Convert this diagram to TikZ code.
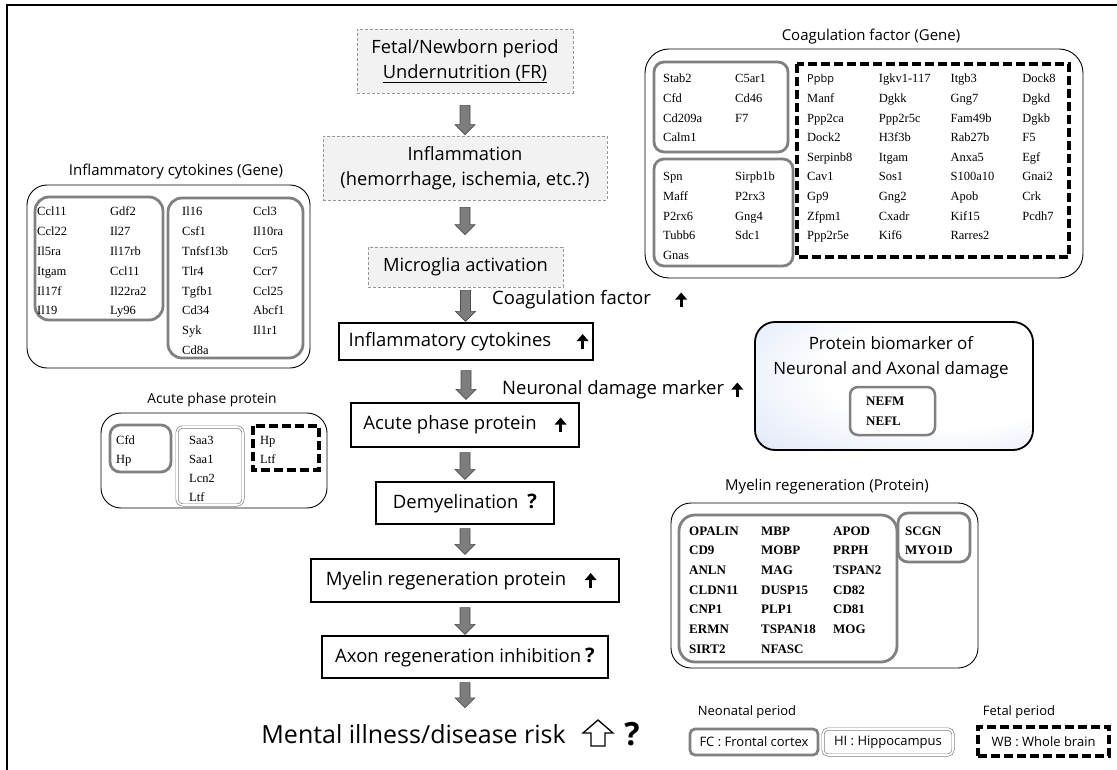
\documentclass[tikz,border=0pt]{standalone}
\usepackage{fontspec}
\setmainfont{Liberation Serif}
\setsansfont{Open Sans}
\usetikzlibrary{calc,arrows.meta}
\definecolor{boxgray}{RGB}{128,128,128}
\definecolor{dashgray}{RGB}{150,150,150}
\definecolor{fillgray}{RGB}{242,242,242}
\definecolor{arrgray}{RGB}{125,125,125}
\definecolor{paleblue}{RGB}{186,202,238}
\pgfdeclareradialshading{bioshade}{\pgfpoint{14bp}{8bp}}{color(0bp)=(white); color(22bp)=(white); color(38bp)=(paleblue!35!white); color(54bp)=(paleblue!80!white); color(72bp)=(paleblue)}
\tikzset{
  frameline/.style={line width=1.8pt},
  outerbox/.style={draw, line width=0.9pt, rounded corners=20pt},
  fcbox/.style={draw=boxgray, line width=2.8pt, rounded corners=10pt},
  wbbox/.style={draw, line width=3.4pt, dash pattern=on 9pt off 4pt},
  hibox/.style={draw=boxgray, double=white, line width=0.7pt, double distance=1.6pt, rounded corners=6pt},
  gene/.style={anchor=west, inner sep=0pt, font=\fontsize{12.5}{14}\selectfont, text height=8.5pt, text depth=2.5pt},
  bgene/.style={gene, font=\fontsize{13}{14}\selectfont\bfseries},
  ttl/.style={font=\sffamily\fontsize{15}{18}\selectfont, inner sep=0pt},
  startbox/.style={draw=dashgray, fill=fillgray, dash pattern=on 3pt off 2pt, line width=0.8pt, font=\sffamily\fontsize{18.3}{25}\selectfont, align=center, inner sep=0pt},
  flowbox/.style={draw, line width=1.3pt, font=\sffamily\fontsize{18.5}{20}\selectfont, inner sep=0pt},
  sidelabel/.style={anchor=west, inner sep=0pt, font=\sffamily\fontsize{18.5}{22}\selectfont},
  legtext/.style={font=\sffamily\fontsize{13}{15}\selectfont, inner sep=0pt},
  blockarrow/.style={draw=black!70, fill=arrgray, line width=0.6pt},
  uparrow/.style={line width=2.8pt, -{Triangle[length=7pt, width=11.5pt]}}
}
\newcommand\qm{{\sffamily\bfseries\fontsize{20}{20}\selectfont ?}}
% block arrow from node #1 (gap #2 below it) to node #3 (tip #4 above it)
\newcommand\barrow[4]{%
  \path let \p1=(#1.south), \p2=(#3.north) in
    [blockarrow] (\x1-5pt,\y1-#2) -- (\x1+5pt,\y1-#2) -- (\x1+5pt,\y2+#4+10pt)
    -- (\x1+10pt,\y2+#4+10pt) -- (\x1,\y2+#4) -- (\x1-10pt,\y2+#4+10pt)
    -- (\x1-5pt,\y2+#4+10pt) -- cycle;}
% bold up arrow: #1 node, #2 x offset from its east anchor
\newcommand\uparr[2]{\draw[uparrow] ($(#1.east)+(#2,7)$) -- ++(0,-14.5);}
\newcommand\genegrid[8]{%
  \foreach \g [count=\i from 0] in {#8} {%
    \pgfmathtruncatemacro\gcol{mod(\i,#5)}%
    \pgfmathtruncatemacro\grow{div(\i,#5)}%
    \node[#6] (#7\i) at ({#1+\gcol*#3},{#2+\grow*#4}) {\g};
  }}
\begin{document}
\begin{tikzpicture}[x=1pt,y=-1pt]
\useasboundingbox (0,0) rectangle (1117,770);
\draw[frameline] (7,770) -- (7,5) -- (1117,5);

% ---------------- central flow ----------------
\node[startbox, minimum width=216pt, minimum height=64pt] (fr) at (465,61)
  {Fetal/Newborn period\\\underline{Undernutrition (FR)}};
\node[startbox, minimum width=284pt, minimum height=64pt] (infl) at (465,168)
  {Inflammation\\(hemorrhage, ischemia, etc.?)};
\node[startbox, minimum width=195pt, minimum height=40pt] (micro) at (465.5,267)
  {Microglia activation};
\node[flowbox, minimum width=254pt, minimum height=37pt] (cyto) at (466,341.5)
  {Inflammatory cytokines\kern32pt};
\node[flowbox, minimum width=228pt, minimum height=44pt] (acute) at (465,425)
  {Acute phase protein\kern30pt};
\node[flowbox, minimum width=178pt, minimum height=42pt] (demy) at (465,503)
  {Demyelination\hspace{9pt}\qm};
\node[flowbox, minimum width=308pt, minimum height=43pt] (myel) at (465,580.5)
  {Myelin regeneration protein\kern38pt};
\node[flowbox, minimum width=286pt, minimum height=42pt] (axon) at (465,657)
  {Axon regeneration inhibition\hspace{4pt}\qm};
\node[anchor=base east, inner sep=0pt, text height=22pt, font=\sffamily\fontsize{25}{27}\selectfont] (risk) at (566,743)
  {Mental illness/disease risk};
\node[anchor=base, inner sep=0pt, font=\sffamily\bfseries\fontsize{32}{32}\selectfont] (riskq) at (632,745) {?};
\draw[line width=1.3pt, line join=miter] (591,746) -- (605,746) -- (605,733) -- (613,733)
  -- (598,720) -- (583,733) -- (591,733) -- cycle;

\uparr{cyto}{-11}
\uparr{acute}{-19}
\uparr{myel}{-29}

\barrow{fr}{12pt}{infl}{1pt}
\barrow{infl}{7pt}{micro}{12pt}
\barrow{micro}{3pt}{cyto}{1pt}
\barrow{cyto}{10pt}{acute}{3pt}
\barrow{acute}{5pt}{demy}{2pt}
\barrow{demy}{4pt}{myel}{4pt}
\barrow{myel}{5pt}{axon}{1pt}
\barrow{axon}{4pt}{risk}{13pt}

\node[sidelabel] (coaglab) at (492,300) {Coagulation factor};
\node[sidelabel] (neurlab) at (502,390) {Neuronal damage marker};
\draw[uparrow] ($(coaglab.east)+(30,7)$) -- ++(0,-14.5);
\draw[uparrow] ($(neurlab.east)+(13,7)$) -- ++(0,-14.5);

% ---------------- coagulation factor ----------------
\node[ttl] (coagt) at (871,37) {Coagulation factor (Gene)};
\draw[outerbox, rounded corners=24pt] (645,49) rectangle (1083,278);
\draw[fcbox] (654,62) rectangle (788,152);
\draw[fcbox] (654,159) rectangle (793,266);
\draw[wbbox] (797,64) rectangle (1069,257);
\genegrid{663}{80}{72}{19.6}{2}{gene}{ca}{Stab2,C5ar1,Cfd,Cd46,Cd209a,F7,Calm1}
\genegrid{663}{178}{72}{19.6}{2}{gene}{cb}{Spn,Sirpb1b,Maff,P2rx3,P2rx6,Gng4,Tubb6,Sdc1,Gnas}
\genegrid{807}{80}{71.7}{19.6}{4}{gene}{cw}{{\sffamily\fontsize{11}{12}\selectfont Ppbp},Igkv1-117,Itgb3,Dock8,
  Manf,Dgkk,Gng7,Dgkd,Ppp2ca,Ppp2r5c,Fam49b,Dgkb,Dock2,H3f3b,Rab27b,F5,
  Serpinb8,Itgam,Anxa5,Egf,Cav1,Sos1,S100a10,Gnai2,Gp9,Gng2,Apob,Crk,
  Zfpm1,Cxadr,Kif15,Pcdh7,Ppp2r5e,Kif6,Rarres2}

% ---------------- inflammatory cytokines ----------------
\node[ttl] (cytot) at (176,172) {Inflammatory cytokines (Gene)};
\draw[outerbox] (27,185) rectangle (310,368);
\draw[fcbox, rounded corners=14pt] (35,197) rectangle (163,320);
\draw[fcbox, rounded corners=14pt] (168,198) rectangle (303,358);
\genegrid{37}{213}{73}{19.8}{2}{gene}{ia}{Ccl11,Gdf2,Ccl22,Il27,Il5ra,Il17rb,Itgam,Ccl11,Il17f,Il22ra2,Il19,Ly96}
\genegrid{182}{213}{71}{19.8}{2}{gene}{ib}{Il16,Ccl3,Csf1,Il10ra,Tnfsf13b,Ccr5,Tlr4,Ccr7,Tgfb1,Ccl25,Cd34,Abcf1,Syk,Il1r1,Cd8a}

% ---------------- acute phase protein ----------------
\node[ttl, font=\sffamily\fontsize{13.8}{16}\selectfont] (acutet) at (212,400) {Acute phase protein};
\draw[outerbox] (101,413) rectangle (327,508);
\draw[fcbox] (110,425) rectangle (171,472);
\draw[hibox] (177,427) rectangle (243,505);
\draw[wbbox] (253,426) rectangle (319,470);
\genegrid{116}{441}{0}{19}{1}{gene}{aa}{Cfd,Hp}
\genegrid{189}{441}{0}{19}{1}{gene}{ab}{Saa3,Saa1,Lcn2,Ltf}
\genegrid{260}{441}{0}{19}{1}{gene}{ac}{Hp,Ltf}

% ---------------- protein biomarker ----------------
\shade[shading=bioshade, rounded corners=20pt] (755,322) rectangle (1033,450);
\draw[line width=1.8pt, rounded corners=20pt] (755,322) rectangle (1033,450);
\node[align=center, inner sep=0pt, font=\sffamily\fontsize{17}{25}\selectfont] (biot) at (891,357.5)
  {Protein biomarker of\\Neuronal and Axonal damage};
\draw[draw=boxgray, fill=white, line width=2.5pt, rounded corners=8pt] (850,387) rectangle (935,435);
\genegrid{866}{402}{0}{20}{1}{bgene}{nf}{NEFM,NEFL}

% ---------------- myelin regeneration ----------------
\node[ttl] (myelt) at (827,487) {Myelin regeneration (Protein)};
\draw[outerbox] (671,503) rectangle (978,668);
\draw[fcbox, rounded corners=16pt] (679,515) rectangle (897,662);
\draw[fcbox] (898,513) rectangle (970,562);
\genegrid{689}{532}{72}{19.7}{3}{bgene}{ma}{OPALIN,MBP,APOD,CD9,MOBP,PRPH,ANLN,MAG,TSPAN2,CLDN11,DUSP15,CD82,CNP1,PLP1,CD81,ERMN,TSPAN18,MOG,SIRT2,NFASC}
\genegrid{905}{532}{0}{19.7}{1}{bgene}{mb}{SCGN,MYO1D}

% ---------------- legend ----------------
\node[legtext] (neo) at (747,712) {Neonatal period};
\node[legtext] (fet) at (1019,712) {Fetal period};
\node[legtext, fcbox, rounded corners=5pt, minimum width=128pt, minimum height=26pt] (fc) at (754,742) {FC : Frontal cortex};
\node[legtext, hibox, rounded corners=5pt, minimum width=130pt, minimum height=26pt] (hi) at (888,742) {HI : Hippocampus};
\node[legtext, wbbox, minimum width=131pt, minimum height=29pt] (wb) at (1043.5,741.5) {WB : Whole brain};
\end{tikzpicture}
\end{document}
